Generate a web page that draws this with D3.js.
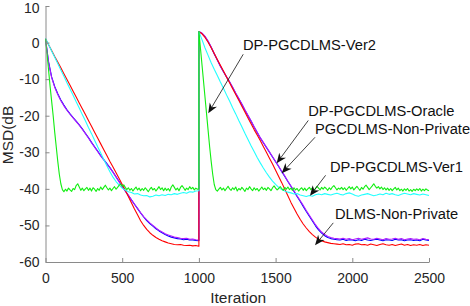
<!DOCTYPE html>
<html><head><meta charset="utf-8">
<script src="https://cdn.jsdelivr.net/npm/d3@7"></script>
<style>
html,body{margin:0;padding:0;background:#fff;}
svg{display:block;}
text{font-family:"Liberation Sans",Arial,Helvetica,sans-serif;}
</style></head>
<body>
<svg id="chart" width="470" height="306"></svg>
<script>
// ---------------- DATA ----------------
const xTicks = [0, 500, 1000, 1500, 2000, 2500];
const yTicks = [10, 0, -10, -20, -30, -40, -50, -60];
const xLabel = "Iteration";
const yLabel = "MSD(dB";
const restartAt = 1000;
const coarseStep = 20;
const fineStep = 10;

// DLMS-Non-Private (red)
const red1 = [1,-0.6,-2.2,-3.8,-5.3,-6.9,-8.5,-10.1,-11.7,-13.3,-14.9,-16.5,-18.1,-19.7,-21.3,-22.9,-24.5,-26.1,-27.7,-29.3,-30.9,-32.5,-34.0,-35.6,-37.2,-38.8,-40.4,-42.1,-43.8,-45.5,-47.1,-48.7,-50.0,-51.1,-52.0,-52.7,-53.3,-53.8,-54.2,-54.5,-54.8,-55.0,-55.2,-55.3,-55.2,-55.4,-55.5,-55.4,-55.6,-55.5,-55.7];
const red2 = [3,2.4,1.4,0.1,-1.4,-3.0,-4.6,-6.2,-7.8,-9.4,-11.0,-12.6,-14.2,-15.8,-17.4,-19.0,-20.6,-22.2,-23.8,-25.3,-26.8,-28.4,-30.0,-31.6,-33.2,-34.9,-36.6,-38.3,-40.1,-41.9,-43.7,-45.3,-46.9,-48.3,-49.6,-50.7,-51.7,-52.5,-53.2,-53.8,-54.2,-54.5,-54.7,-54.9,-55.0,-55.1,
  -55.2,-55.0,-55.3,-55.2,-55.4,-55.1,-55.0,-55.3,-55.2,-55.4,-55.1,-55.3,-55.5,-55.2,-55.0,-55.3,-55.4,-55.2,-55.5,-55.3,-55.1,-55.4,-55.2,-55.5,-55.3,-55.4,-55.2,-55.5,-55.3,-55.4];

// PGCDLMS-Non-Private (blue)
const blue1 = [1,-5.3,-9.4,-12.0,-14.0,-15.7,-17.1,-18.4,-19.5,-20.5,-21.5,-22.5,-23.6,-24.8,-26.0,-27.3,-28.5,-29.7,-30.9,-32.0,-33.1,-34.2,-35.4,-36.7,-38.0,-39.3,-40.6,-41.8,-43.0,-44.2,-45.4,-46.6,-47.7,-48.7,-49.5,-50.2,-50.9,-51.5,-52.0,-52.5,-52.9,-53.2,-53.4,-53.6,-53.7,-53.9,-53.8,-54.0,-54.0,-54.1,-54.2];
const blue2 = [3,2.5,1.6,0.3,-1.3,-3.1,-4.8,-6.5,-8.0,-9.4,-10.8,-12.3,-13.9,-15.4,-16.9,-18.5,-20.0,-21.5,-23.1,-24.6,-26.1,-27.4,-28.7,-30.0,-31.3,-32.6,-33.9,-35.3,-36.6,-38.0,-39.3,-40.7,-42.1,-43.4,-44.8,-46.2,-47.5,-48.8,-50.1,-51.2,-52.1,-52.8,-53.3,-53.6,-53.8,-53.9,
  -54.0,-53.8,-54.1,-53.9,-54.0,-54.2,-53.9,-54.1,-53.8,-54.0,-54.1,-53.9,-53.8,-54.0,-54.2,-53.9,-54.0,-54.1,-53.8,-54.0,-53.9,-54.2,-54.0,-53.9,-54.1,-54.0,-54.2,-53.8,-54.0,-54.1];

// DP-PGCDLMS-Oracle (purple)
const purple1 = [1,-5.5,-9.6,-12.2,-14.2,-15.9,-17.3,-18.5,-19.6,-20.6,-21.6,-22.6,-23.7,-24.9,-26.1,-27.4,-28.6,-29.8,-31.0,-32.1,-33.2,-34.3,-35.5,-36.8,-38.1,-39.4,-40.6,-41.8,-43.0,-44.2,-45.3,-46.5,-47.6,-48.5,-49.3,-50.0,-50.7,-51.3,-51.8,-52.3,-52.6,-52.9,-53.2,-53.3,-53.5,-53.6,-53.5,-53.8,-53.7,-53.9,-54.0];
const purple2 = [3,2.6,1.7,0.4,-1.2,-3.0,-4.7,-6.4,-7.9,-9.3,-10.7,-12.2,-13.8,-15.3,-16.8,-18.4,-19.9,-21.4,-23.0,-24.5,-26.0,-27.3,-28.6,-29.9,-31.2,-32.5,-33.8,-35.2,-36.5,-37.9,-39.2,-40.5,-41.9,-43.2,-44.5,-45.9,-47.2,-48.5,-49.8,-50.9,-51.8,-52.5,-53.0,-53.3,-53.5,-53.6,
  -53.7,-53.5,-53.8,-53.6,-53.9,-53.7,-53.5,-53.8,-53.6,-53.4,-53.7,-53.8,-53.5,-53.7,-53.9,-53.6,-53.8,-53.7,-53.5,-53.8,-53.6,-53.9,-53.7,-53.6,-53.8,-53.7,-53.9,-53.6,-53.8,-53.9];

// DP-PGCDLMS-Ver1 (cyan)
const cyan1 = [1.2,-0.5,-2.3,-4.0,-5.7,-7.5,-9.2,-11.0,-12.7,-14.4,-16.2,-17.9,-19.7,-21.4,-23.2,-24.9,-26.7,-28.5,-30.2,-32.0,-33.7,-35.3,-36.8,-38.0,-39.0,-39.8,-40.3,-40.8,-41.0,-41.4,-41.3,-41.7,-41.9,-41.8,-42.2,-42.0,-41.7,-41.9,-41.6,-41.8,-41.5,-41.6,-41.3,-41.5,-41.2,-41.0,-41.2,-40.8,-40.9,-40.6,-40.5];
const cyan2 = [3,0.8,-1.5,-3.5,-5.5,-7.3,-9.0,-10.8,-12.5,-14.3,-16.0,-17.8,-19.5,-21.3,-23.0,-24.8,-26.5,-28.2,-29.8,-31.4,-32.9,-34.3,-35.6,-36.8,-37.9,-38.8,-39.6,-40.2,-40.6,-40.9,-41.1,-41.4,-41.3,-41.7,-41.9,-42.1,-41.8,-42.0,-41.6,-41.4,-41.6,-41.3,-41.5,-41.7,-41.4,-41.2,
  -41.5,-41.7,-41.3,-41.1,-41.4,-41.8,-42.0,-41.7,-41.5,-41.3,-41.6,-41.9,-41.7,-41.4,-41.6,-41.2,-41.5,-41.3,-41.6,-41.8,-41.5,-41.2,-41.4,-41.6,-41.3,-41.5,-41.7,-41.4,-41.6,-41.8];

// DP-PGCDLMS-Ver2 (green), step 10
const green1 = [1,-3,-7.5,-12,-16,-20,-24.5,-28.5,-32.5,-36,-38.6,-40.2,-40.8,
  -40.1,-40.6,-39.8,-40.3,-40.7,-39.9,-40.2,-39.1,-38.6,-39.5,
  -40.4,-39.8,-40.5,-40.0,-39.6,-40.4,-39.8,-40.6,-39.7,-40.1,
  -40.7,-39.9,-40.4,-39.5,-40.2,-39.6,-39.0,-39.7,-40.3,-39.8,
  -40.5,-39.9,-39.4,-40.1,-39.6,-39.0,-38.7,-39.3,-38.9,-39.6,
  -40.2,-39.7,-40.4,-39.9,-40.6,-40.0,-39.5,-40.3,-39.8,-40.5,
  -39.9,-40.4,-39.7,-40.2,-40.8,-40.1,-39.6,-40.3,-39.9,-40.6,
  -40.0,-39.4,-40.2,-39.7,-40.5,-39.8,-40.4,-39.9,-40.6,-39.5,
  -38.9,-39.6,-40.3,-39.8,-40.5,-39.6,-39.1,-39.7,-40.4,-39.8,
  -40.2,-39.4,-40.0,-39.6,-40.3,-39.8,-40.1,-40.0];
const green2 = [3,-1.5,-6,-10.5,-15,-19.5,-24,-28.5,-32.5,-36,-38.8,-40.2,-40.6,
  -40.1,-39.6,-40.3,-39.8,-40.5,-39.9,-39.3,-40.0,-40.4,-39.7,
  -40.2,-39.5,-40.6,-39.9,-40.3,-39.6,-40.1,-40.7,-39.8,-40.2,
  -39.4,-40.0,-40.5,-39.7,-40.3,-39.9,-40.6,-40.1,-39.5,-40.2,
  -39.8,-40.4,-39.6,-40.0,-40.5,-39.7,-39.2,-39.8,-40.3,-39.9,
  -39.4,-39.9,-40.4,-39.6,-40.1,-39.5,-40.2,-39.8,-40.4,-39.7,
  -40.3,-39.9,-40.6,-40.1,-39.7,-40.4,-39.8,-40.5,-40.0,-39.6,
  -40.2,-39.7,-40.4,-39.9,-39.3,-39.8,-40.3,-39.6,-40.1,-39.5,
  -39.9,-40.4,-39.7,-40.2,-39.5,-39.1,-39.7,-40.3,-39.8,-40.1,
  -39.6,-40.2,-39.7,-40.4,-39.9,-39.4,-40.0,-39.5,-40.3,-39.8,
  -39.3,-39.9,-40.4,-39.6,-40.1,-39.4,-39.0,-39.6,-40.2,-39.7,
  -39.2,-38.6,-39.3,-39.8,-39.4,-40.0,-39.5,-40.2,-39.7,-40.3,
  -39.8,-40.4,-39.9,-40.5,-40.0,-39.6,-40.3,-39.8,-40.5,-40.1,
  -40.6,-40.0,-40.4,-39.9,-40.6,-40.2,-40.7,-40.1,-40.5,-40.0,
  -40.4,-39.9,-40.6,-40.1,-40.5,-40.0,-40.3,-40.5];

const seriesNames = ["DLMS-Non-Private","PGCDLMS-Non-Private","DP-PGCDLMS-Oracle","DP-PGCDLMS-Ver1","DP-PGCDLMS-Ver2"];
const seriesColors = ["#ff0000","#0000ff","#b01cff","#22ffff","#11ee11"];

// annotations: label, text anchor (iteration, dB at baseline), arrow start, arrow tip
const annLabels = ["DP-PGCDLMS-Ver2","DP-PGCDLMS-Oracle","PGCDLMS-Non-Private","DP-PGCDLMS-Ver1","DLMS-Non-Private"];
const annText  = [[1287,-2.0],[1713,-20.0],[1757,-25.0],[1854,-35.3],[1887,-48.3]];
const annFrom  = [[1289,-3.2],[1713,-21.3],[1757,-25.9],[1826,-36.3],[1876,-49.3]];
const annTip   = [[1061,-19.3],[1507,-33.0],[1540,-35.7],[1724,-41.9],[1757,-55.4]];

// ---------------- DRAW ----------------
const svg = d3.select("#chart");
const x = d3.scaleLinear().domain([0, 2500]).range([45.5, 429]);
const y = d3.scaleLinear().domain([-60, 10]).range([262, 6]);

function build(a, b, step) {
  const pts = a.map((v, i) => [i * step, v]);
  b.forEach((v, i) => pts.push([restartAt + i * step, v]));
  return pts;
}
const allSeries = [
  build(red1, red2, coarseStep),
  build(blue1, blue2, coarseStep),
  build(purple1, purple2, coarseStep),
  build(cyan1, cyan2, coarseStep),
  build(green1, green2, fineStep)
];

const line = d3.line().x(d => x(d[0])).y(d => y(d[1]));
const drawOrder = [1, 2, 0, 3, 4];
drawOrder.forEach(k => {
  svg.append("path")
    .attr("d", line(allSeries[k]))
    .attr("fill", "none")
    .attr("stroke", seriesColors[k])
    .attr("stroke-width", 1.1)
    .attr("stroke-linejoin", "round");
});

// axes (left & bottom, inward ticks)
const axisColor = "#8a8a8a";
const gx = svg.append("g").attr("transform", `translate(0,${y(-60)})`)
  .call(d3.axisBottom(x).tickValues(xTicks).tickSizeInner(-4).tickSizeOuter(0).tickPadding(11).tickFormat(d3.format("d")));
const gy = svg.append("g").attr("transform", `translate(${x(0)},0)`)
  .call(d3.axisLeft(y).tickValues(yTicks).tickSizeInner(-4).tickSizeOuter(0).tickPadding(6).tickFormat(d => String(d)));
[gx, gy].forEach(g => {
  g.select(".domain").attr("stroke", axisColor).attr("stroke-width", 1);
  g.selectAll(".tick line").attr("stroke", axisColor);
  g.selectAll(".tick text").attr("fill", "#262626").style("font-size", "14px")
    .style("font-family", '"Liberation Sans",Arial,sans-serif');
});
gy.selectAll(".tick text").attr("x", -6);
// keep the top label inside the picture
gy.selectAll(".tick").filter(d => d === 10).select("text").attr("dy", "0.45em");

// axis labels
svg.append("text").attr("x", (x(0) + x(2500)) / 2 + 1).attr("y", 303)
  .attr("text-anchor", "middle").attr("fill", "#262626").style("font-size", "15.5px").text(xLabel);
svg.append("text").attr("transform", `translate(13,${(y(10) + y(-60)) / 2 + 1}) rotate(-90)`)
  .attr("text-anchor", "middle").attr("fill", "#262626").style("font-size", "15.5px").text(yLabel);

// annotations
annLabels.forEach((lab, i) => {
  const tx = x(annText[i][0]), ty = y(annText[i][1]);
  svg.append("text").attr("x", tx).attr("y", ty).attr("fill", "#111")
    .style("font-size", "14.7px").text(lab);
  const x0 = x(annFrom[i][0]), y0 = y(annFrom[i][1]);
  const x1 = x(annTip[i][0]), y1 = y(annTip[i][1]);
  const dx = x1 - x0, dy = y1 - y0, L = Math.hypot(dx, dy);
  const ux = dx / L, uy = dy / L, px = -uy, py = ux;
  const headLen = 10, headW = 4.2, notch = 7;
  svg.append("line").attr("x1", x0).attr("y1", y0)
    .attr("x2", x1 - ux * notch).attr("y2", y1 - uy * notch)
    .attr("stroke", "#111").attr("stroke-width", 0.8);
  const bx = x1 - ux * headLen, by = y1 - uy * headLen;
  const nx = x1 - ux * notch, ny = y1 - uy * notch;
  svg.append("path")
    .attr("d", `M${x1},${y1}L${bx + px * headW},${by + py * headW}L${nx},${ny}L${bx - px * headW},${by - py * headW}Z`)
    .attr("fill", "#111");
});
</script>
</body></html>
